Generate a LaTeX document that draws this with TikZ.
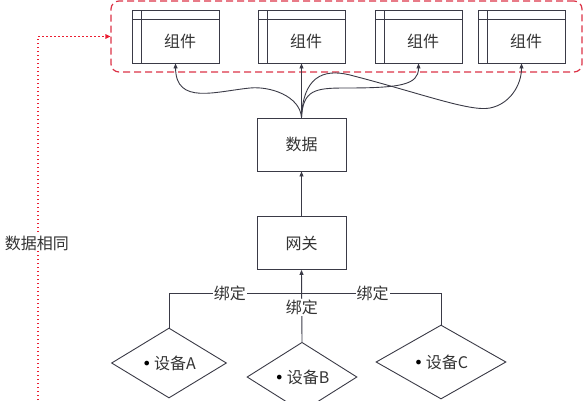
\documentclass[tikz,border=0pt]{standalone}
\usepackage{fontspec}
\setmainfont{Noto Sans CJK SC}
\newfontfamily\bulfont{DejaVu Sans}
\usetikzlibrary{arrows.meta,shapes.geometric}
\definecolor{ln}{RGB}{58,58,70}
\definecolor{tx}{RGB}{51,51,51}
\definecolor{rd}{RGB}{220,50,70}
\definecolor{rdd}{RGB}{235,30,50}
\newcommand{\bl}{{\bulfont\textcolor{black}{•}}}
\tikzset{
  base/.style={line width=0.9pt, draw=ln},
  comp/.style={base, minimum width=87pt, minimum height=53pt, inner sep=0pt,
    path picture={
      \draw[ln, line width=0.9pt] ([xshift=9pt]path picture bounding box.north west) -- ([xshift=9pt]path picture bounding box.south west);
      \draw[ln, line width=0.9pt] ([yshift=-9pt]path picture bounding box.north west) -- ([yshift=-9pt]path picture bounding box.north east);
    }},
  boxn/.style={base, minimum width=89pt, minimum height=53pt, inner sep=0pt, text=tx},
  dia/.style={base, shape=diamond, inner sep=0pt, text=tx},
  txt/.style={text=tx, inner sep=1pt},
  lbl/.style={text=tx, fill=white, inner sep=1pt},
  arr/.style={base, -{Triangle[length=5pt,width=4pt]}},
  conn/.style={base},
}
\begin{document}
\begin{tikzpicture}[x=1pt,y=-1pt,font=\fontsize{16pt}{19pt}\selectfont]
\useasboundingbox (0,0) rectangle (583,400);
\clip (0,0) rectangle (583,400);
% components
\node[comp] (c1) at (175.5,36.5) {};
\node[comp] (c2) at (301.5,36.5) {};
\node[comp] (c3) at (418.5,36.5) {};
\node[comp] (c4) at (521.5,36.5) {};
\node[txt] (t1) at ([shift={(4.5,5)}]c1.center) {组件};
\node[txt] (t2) at ([shift={(4.5,5)}]c2.center) {组件};
\node[txt] (t3) at ([shift={(4.5,5)}]c3.center) {组件};
\node[txt] (t4) at ([shift={(4.5,5)}]c4.center) {组件};
% group
\node[draw=rd, line width=1.2pt, dash pattern=on 7pt off 4pt, rounded corners=8pt,
      minimum width=471pt, minimum height=71pt, inner sep=0pt] (grp) at (346.5,36.5) {};
% data and gateway
\node[boxn] (d) at (301.5,144.5) {数据};
\node[boxn] (g) at (301.5,243) {网关};
% diamonds
\node[dia, minimum width=115pt, minimum height=70pt] (dA) at (169,363) {\bl\,设备A};
\node[dia, minimum width=110pt, minimum height=66pt] (dB) at (302,377) {\bl\,设备B};
\node[dia, minimum width=130pt, minimum height=74pt] (dC) at (441,362) {\bl\,设备C};
% curves from data to components
\draw[arr] (d.north) .. controls (300,96) and (270,86) .. (250,88)
           .. controls (215,91.5) and (176,105) .. (c1.south);
\draw[arr] (d.north) -- (c2.south);
\draw[arr] (d.north) .. controls (303,90) and (315,88) .. (345,88)
           .. controls (400,88) and (418.5,85) .. (c3.south);
\draw[arr] (d.north) .. controls (303,78) and (322,68) .. (350,75)
           .. controls (420,93) and (470,112) .. (490,108)
           .. controls (510,104) and (521.5,85) .. (c4.south);
% gateway to data
\draw[arr] (g.north) -- (d.south);
% bindings
\coordinate (bus) at (301.5,293);
\draw[conn] (dA.north) |- node[lbl, pos=0.73] (lA) {绑定} (bus);
\draw[conn] (dC.north) |- node[lbl, pos=0.745] (lC) {绑定} (bus);
\draw[arr] (dB.north) -- node[lbl, pos=0.48] (lB) {绑定} (g.south);
% dotted feedback
\coordinate (s) at (38,400);
\draw[rdd, line width=1.3pt, dash pattern=on 1.3pt off 2.7pt, -{Triangle[length=5pt,width=4.5pt]}] (s) |- (grp.west);
\node[lbl] (same) at (37,243) {数据相同};
\end{tikzpicture}
\end{document}
